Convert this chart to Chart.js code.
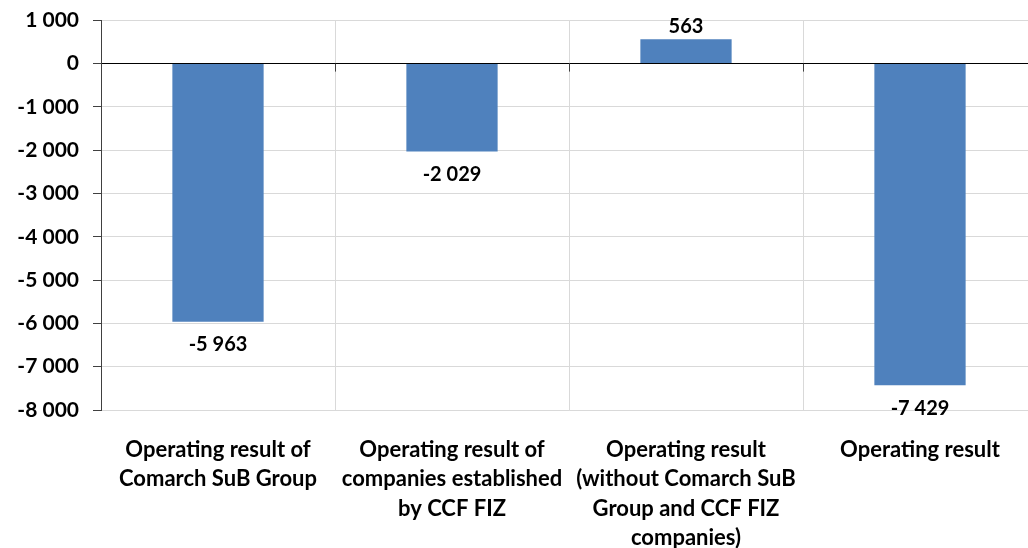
<!DOCTYPE html>
<html>
<head>
<meta charset="utf-8">
<script src="https://cdn.jsdelivr.net/npm/chart.js@4"></script>
<style>
  html, body { margin: 0; padding: 0; background: #fff; overflow: hidden; }
  #wrap { width: 1040px; height: 548px; }
</style>
</head>
<body>
<div id="wrap"><canvas id="resultChart" width="1040" height="548"></canvas></div>
<script>
// categories and values
const categories = [
    ['Operating result of', 'Comarch SuB Group'],
    ['Operating result of', 'companies established', 'by CCF FIZ'],
    ['Operating result', '(without Comarch SuB', 'Group and CCF FIZ', 'companies)'],
    ['Operating result']
];
const values = [-5963, -2029, 563, -7429];
const yMin = -8000;
const yMax = 1000;

// "1 000" style with a space as thousands separator
function fmt(v) {
    const s = String(Math.abs(v)).replace(/\B(?=(\d{3})+(?!\d))/g, ' ');
    return (v < 0 ? '-' : '') + s;
}

// draws the value next to each bar
const valueLabels = {
    id: 'valueLabels',
    afterDatasetsDraw(chart) {
        const ctx = chart.ctx;
        const meta = chart.getDatasetMeta(0);
        ctx.save();
        ctx.font = 'bold 20px Lato, "Open Sans", sans-serif';
        ctx.fillStyle = '#000';
        ctx.textAlign = 'center';
        meta.data.forEach((bar, i) => {
            const v = chart.data.datasets[0].data[i];
            if (v < 0) {
                ctx.textBaseline = 'top';
                ctx.fillText(fmt(v), bar.x, bar.y + 13);
            } else {
                ctx.textBaseline = 'bottom';
                ctx.fillText(fmt(v), bar.x, bar.y - 3);
            }
        });
        ctx.restore();
    }
};

// small tick marks hanging below the zero line at category boundaries
const zeroTicks = {
    id: 'zeroTicks',
    afterDatasetsDraw(chart) {
        const ctx = chart.ctx;
        const x = chart.scales.x;
        const y0 = chart.scales.y.getPixelForValue(0);
        const step = (x.right - x.left) / categories.length;
        ctx.save();
        ctx.strokeStyle = '#404040';
        ctx.lineWidth = 1;
        for (let i = 1; i < categories.length; i++) {
            const px = Math.round(x.left + step * i) + 0.5;
            ctx.beginPath();
            ctx.moveTo(px, y0);
            ctx.lineTo(px, y0 + 8);
            ctx.stroke();
        }
        ctx.restore();
    }
};

const ctx = document.getElementById('resultChart').getContext('2d');
new Chart(ctx, {
    type: 'bar',
    data: {
        labels: categories,
        datasets: [{
            data: values,
            backgroundColor: '#4F81BD',
            borderWidth: 0,
            barPercentage: 0.39,
            categoryPercentage: 1
        }]
    },
    options: {
        responsive: false,
        animation: false,
        layout: { padding: { top: 14, right: 3, left: 0, bottom: 0 } },
        plugins: {
            legend: { display: false },
            tooltip: { enabled: false }
        },
        scales: {
            x: {
                afterFit: s => { s.height = 138; },
                grid: {
                    offset: true,
                    color: '#d9d9d9',
                    drawTicks: false
                },
                border: { color: '#d9d9d9' },
                ticks: {
                    color: '#000',
                    padding: 25,
                    maxRotation: 0,
                    autoSkip: false,
                    font: { family: 'Lato, "Open Sans", sans-serif', size: 22, weight: 'bold', lineHeight: 1.34 }
                }
            },
            y: {
                min: yMin,
                max: yMax,
                afterFit: s => { s.width = 101; },
                ticks: {
                    stepSize: 1000,
                    color: '#000',
                    padding: 14,
                    font: { family: 'Lato, "Open Sans", sans-serif', size: 21, weight: 'bold', lineHeight: 0.6 },
                    callback: v => fmt(v)
                },
                grid: {
                    color: c => c.tick && c.tick.value === 0 ? '#000' : '#d9d9d9',
                    tickColor: '#404040',
                    tickLength: 8
                },
                border: { color: '#404040' }
            }
        }
    },
    plugins: [valueLabels, zeroTicks]
});
</script>
</body>
</html>
